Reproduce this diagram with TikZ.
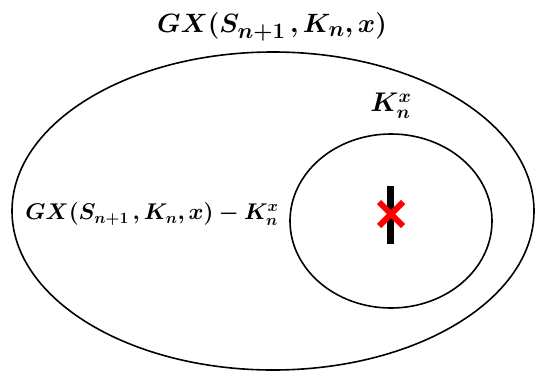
\documentclass[tikz,border=0pt]{standalone}
\usepackage{amsmath, amssymb, bm, graphicx}
\usepackage{tikz}
\usetikzlibrary{positioning}

\newcommand{\biglabel}[2]{\scalebox{#1}{$\bm{#2}$}}

\begin{document}
\begin{tikzpicture}[x=1pt, y=-1pt,
    set line/.style={draw, line width=1.6pt},
    set label/.style={inner sep=0pt, font=\fontsize{20.74}{25}\selectfont}]
    \useasboundingbox (0,0) rectangle (535,370);
    \clip (0,0) rectangle (535,370);

    \draw[set line] (273,211) ellipse [x radius=261, y radius=159];
    \draw[set line] (391,221) ellipse [x radius=101, y radius=87];

    \node[set label, font=\fontsize{24.88}{30}\selectfont] (whole) at (272,27) {\biglabel{1.064}{GX(S_{n+1}\,, K_n, x)}};
    \node[set label] (kx) at (391,106) {\biglabel{1.3}{K_n^x}};
    \node[set label] (diff) at (152,214) {\biglabel{1.096}{GX(S_{n+1}\,, K_n, x) - K_n^x}};

    \coordinate (bar top) at (390,186);
    \coordinate (bar bottom) at (390,244);
    \draw[line width=7pt] (bar top) -- (bar bottom);
    \draw[red, line width=6pt] (379,202) -- (403,226);
    \draw[red, line width=6pt] (379,226) -- (403,202);
\end{tikzpicture}
\end{document}
